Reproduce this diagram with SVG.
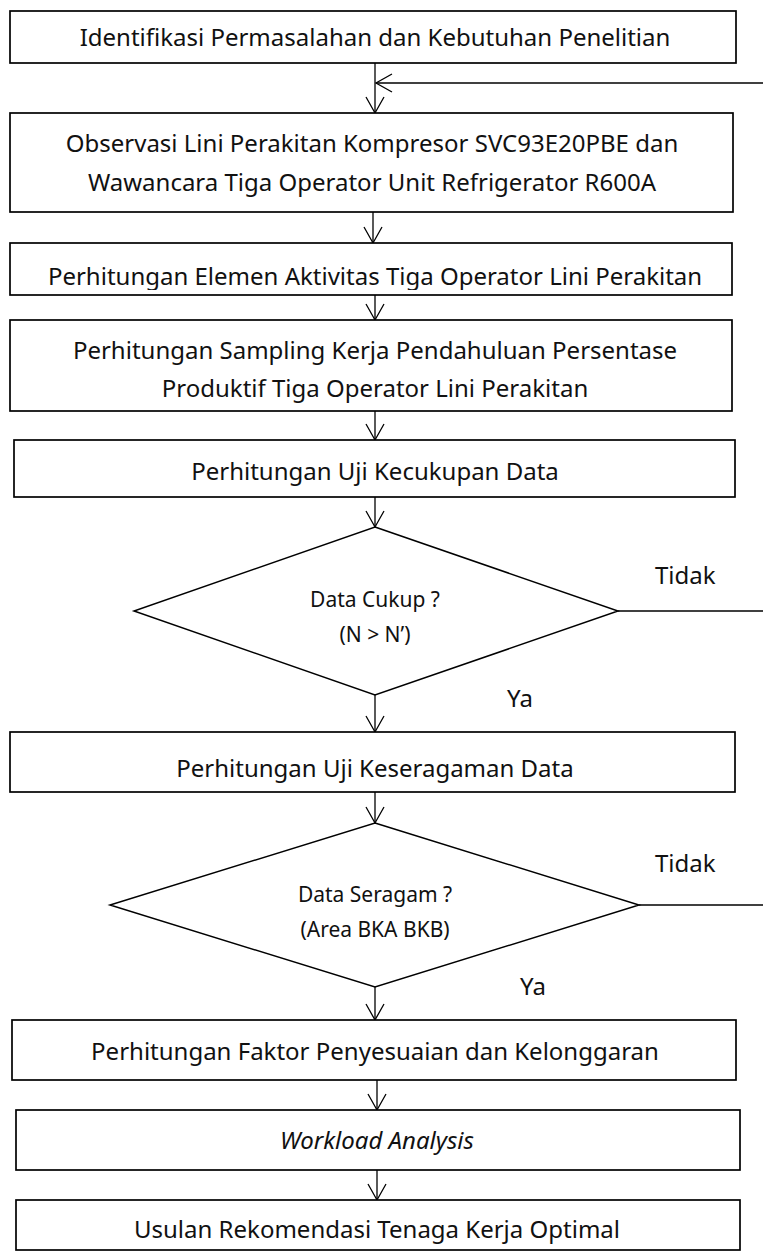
<svg xmlns="http://www.w3.org/2000/svg" width="763" height="1253" viewBox="0 0 763 1253">
  <style>
    .box { fill: #ffffff; stroke: #000000; stroke-width: 1.7; }
    .dec { fill: #ffffff; stroke: #000000; stroke-width: 1.5; }
    .t { font-family: "Noto Sans", "Open Sans", sans-serif; font-size: 24px; fill: #111111; text-anchor: middle; }
    .s { font-size: 21px; }
    .lbl { font-family: "Noto Sans", "Open Sans", sans-serif; font-size: 24px; fill: #111111; }
    .c { stroke: #000000; stroke-width: 1.3; fill: none; marker-end: url(#arr); }
    .ln { stroke: #000000; stroke-width: 1.6; fill: none; }
  </style>
  <defs>
    <marker id="arr" viewBox="-17 -11 19 22" refX="0" refY="0" markerWidth="19" markerHeight="22" orient="auto" markerUnits="userSpaceOnUse">
      <path d="M-16,-9 L0,0 L-16,9" fill="none" stroke="#000000" stroke-width="1.3"/>
    </marker>
    <clipPath id="clip3">
      <rect x="10" y="243" width="722" height="47"/>
    </clipPath>
  </defs>
  <rect width="763" height="1253" fill="#ffffff"/>

  <g id="connectors">
    <path class="c" d="M375,63 V113"/>
    <path class="c" d="M763,83 H376"/>
    <path class="c" d="M373,212 V243"/>
    <path class="c" d="M375,295 V320"/>
    <path class="c" d="M375,411 V440"/>
    <path class="c" d="M375,497 V527"/>
    <path class="c" d="M375,695 V732"/>
    <path class="ln" d="M618,611 H763"/>
    <path class="c" d="M375,792 V823"/>
    <path class="c" d="M375,987 V1020"/>
    <path class="ln" d="M639,905 H763"/>
    <path class="c" d="M377,1080 V1110"/>
    <path class="c" d="M377,1170 V1200"/>
  </g>

  <g id="identifikasi">
    <rect class="box" x="10" y="11" width="726" height="52"/>
    <text class="t" x="375" y="46">Identifikasi Permasalahan dan Kebutuhan Penelitian</text>
  </g>

  <g id="observasi">
    <rect class="box" x="10" y="113" width="723" height="99"/>
    <text class="t" x="372" y="152">Observasi Lini Perakitan Kompresor SVC93E20PBE dan</text>
    <text class="t" x="372" y="191">Wawancara Tiga Operator Unit Refrigerator R600A</text>
  </g>

  <g id="elemen-aktivitas">
    <rect class="box" x="10" y="243" width="722" height="52"/>
    <text class="t" x="375" y="285" clip-path="url(#clip3)">Perhitungan Elemen Aktivitas Tiga Operator Lini Perakitan</text>
  </g>

  <g id="sampling-kerja">
    <rect class="box" x="10" y="320" width="722" height="91"/>
    <text class="t" x="375" y="359">Perhitungan Sampling Kerja Pendahuluan Persentase</text>
    <text class="t" x="375" y="397">Produktif Tiga Operator Lini Perakitan</text>
  </g>

  <g id="uji-kecukupan">
    <rect class="box" x="14" y="440" width="721" height="57"/>
    <text class="t" x="375" y="480">Perhitungan Uji Kecukupan Data</text>
  </g>

  <g id="data-cukup">
    <polygon class="dec" points="375,527 618,611 375,695 134,611"/>
    <text class="t s" x="375" y="607">Data Cukup ?</text>
    <text class="t s" x="375" y="642">(N &gt; N’)</text>
    <text class="lbl" x="655" y="584">Tidak</text>
    <text class="lbl" x="507" y="707">Ya</text>
  </g>

  <g id="uji-keseragaman">
    <rect class="box" x="10" y="732" width="725" height="60"/>
    <text class="t" x="375" y="777">Perhitungan Uji Keseragaman Data</text>
  </g>

  <g id="data-seragam">
    <polygon class="dec" points="375,823 639,905 375,987 110,905"/>
    <text class="t s" x="375" y="902">Data Seragam ?</text>
    <text class="t s" x="375" y="937">(Area BKA BKB)</text>
    <text class="lbl" x="655" y="872">Tidak</text>
    <text class="lbl" x="520" y="995">Ya</text>
  </g>

  <g id="faktor-penyesuaian">
    <rect class="box" x="12" y="1020" width="724" height="60"/>
    <text class="t" x="375" y="1060">Perhitungan Faktor Penyesuaian dan Kelonggaran</text>
  </g>

  <g id="workload">
    <rect class="box" x="16" y="1110" width="724" height="60"/>
    <text class="t" x="377" y="1149" font-style="italic">Workload Analysis</text>
  </g>

  <g id="rekomendasi">
    <rect class="box" x="16" y="1200" width="724" height="50"/>
    <text class="t" x="377" y="1238">Usulan Rekomendasi Tenaga Kerja Optimal</text>
  </g>
</svg>
